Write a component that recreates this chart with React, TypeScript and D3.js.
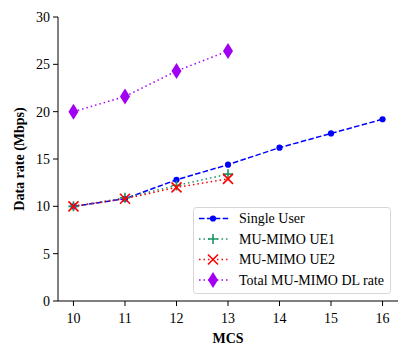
import React from "react";
import { scaleLinear, line, symbol, symbolCircle } from "d3";

const mcs = [10, 11, 12, 13, 14, 15, 16];
const singleUser = [10.0, 10.8, 12.8, 14.4, 16.2, 17.7, 19.2];
const muUe1 = [10.0, 10.9, 12.2, 13.4];
const muUe2 = [10.0, 10.8, 12.0, 12.9];
const totalMu = [20.0, 21.6, 24.3, 26.4];
const yTicks = [0, 5, 10, 15, 20, 25, 30];

const W = 410;
const H = 358;
const left = 58;
const right = 398;
const top = 17;
const bottom = 301;
const font = "'Liberation Serif', 'Times New Roman', serif";

const BLUE = "#0000ff";
const GREEN = "#1a9466";
const RED = "#ff0000";
const PURPLE = "#a100f2";

type Kind = "circle" | "plus" | "x" | "diamond";

function Marker({ kind, x, y, color }: { kind: Kind; x: number; y: number; color: string }) {
  if (kind === "circle") {
    return <path d={symbol(symbolCircle, 30)()!} transform={`translate(${x},${y})`} fill={color} />;
  }
  if (kind === "plus") {
    return (
      <path d={`M${x - 5},${y}H${x + 5}M${x},${y - 5}V${y + 5}`} stroke={color} strokeWidth={1.6} />
    );
  }
  if (kind === "x") {
    return (
      <path
        d={`M${x - 5},${y - 5}L${x + 5},${y + 5}M${x - 5},${y + 5}L${x + 5},${y - 5}`}
        stroke={color}
        strokeWidth={1.6}
      />
    );
  }
  return <path d={`M${x},${y - 8}L${x + 5},${y}L${x},${y + 8}L${x - 5},${y}Z`} fill={color} />;
}

export default function App() {
  const x = scaleLinear().domain([9.7, 16.3]).range([left, right]);
  const y = scaleLinear().domain([0, 30]).range([bottom, top]);

  const series = [
    { name: "Single User", values: singleUser, color: BLUE, dash: "5.5,2.4", kind: "circle" as Kind },
    { name: "MU-MIMO UE1", values: muUe1, color: GREEN, dash: "1.5,3", kind: "plus" as Kind },
    { name: "MU-MIMO UE2", values: muUe2, color: RED, dash: "1.5,3", kind: "x" as Kind },
    { name: "Total MU-MIMO DL rate", values: totalMu, color: PURPLE, dash: "1.5,3", kind: "diamond" as Kind },
  ];

  const gen = line<number>()
    .x((_, i) => x(mcs[i]))
    .y((d) => y(d));

  return (
    <svg
      width={W}
      height={H}
      style={{ position: "absolute", left: 0, top: 0, background: "#fff" }}
      fontFamily={font}
    >
      {/* lines and markers */}
      {series.map((s) => (
        <g key={s.name}>
          <path d={gen(s.values)!} fill="none" stroke={s.color} strokeWidth={1.5} strokeDasharray={s.dash} />
          {s.values.map((v, i) => (
            <Marker key={i} kind={s.kind} x={x(mcs[i])} y={y(v)} color={s.color} />
          ))}
        </g>
      ))}

      {/* axes */}
      <line x1={left} x2={left} y1={top} y2={bottom} stroke="#000" strokeWidth={1} />
      <line x1={left} x2={right} y1={bottom} y2={bottom} stroke="#000" strokeWidth={1} />
      {yTicks.map((t) => (
        <g key={t}>
          <line x1={left - 5} x2={left} y1={y(t)} y2={y(t)} stroke="#000" />
          <text x={left - 8} y={y(t)} dy="0.35em" textAnchor="end" fontSize={14}>
            {t}
          </text>
        </g>
      ))}
      {mcs.map((t) => (
        <g key={t}>
          <line x1={x(t)} x2={x(t)} y1={bottom} y2={bottom + 5} stroke="#000" />
          <text x={x(t)} y={bottom + 22} textAnchor="middle" fontSize={14}>
            {t}
          </text>
        </g>
      ))}
      <text x={(left + right) / 2} y={343} textAnchor="middle" fontSize={14} fontWeight="bold">
        MCS
      </text>
      <text
        transform={`translate(24,${(top + bottom) / 2}) rotate(-90)`}
        textAnchor="middle"
        fontSize={14}
        fontWeight="bold"
      >
        Data rate (Mbps)
      </text>

      {/* legend */}
      <g>
        <rect x={193.5} y={207.5} width={197} height={86} rx={3} fill="#fff" fillOpacity={0.8} stroke="#d6d6d6" />
        {series.map((s, i) => {
          const cy = 218.5 + i * 20.5;
          return (
            <g key={s.name}>
              <line x1={199} x2={229} y1={cy} y2={cy} stroke={s.color} strokeWidth={1.5} strokeDasharray={s.dash} />
              <Marker kind={s.kind} x={213} y={cy} color={s.color} />
              <text x={239} y={cy} dy="0.35em" fontSize={14}>
                {s.name}
              </text>
            </g>
          );
        })}
      </g>
    </svg>
  );
}
